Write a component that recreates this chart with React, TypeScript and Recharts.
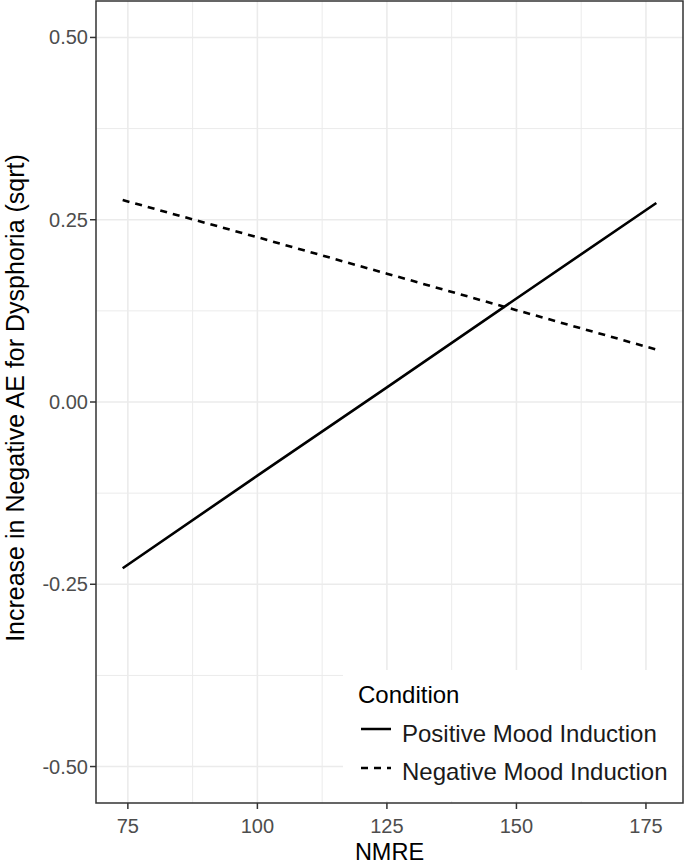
import { LineChart, Line, XAxis, YAxis, CartesianGrid, ReferenceArea, Legend } from "recharts"

const nmre = [74, 100, 125, 150, 177]
const positiveMood = [-0.228, -0.101, 0.02, 0.142, 0.273]
const negativeMood = [0.277, 0.226, 0.176, 0.126, 0.072]

const xMajor = [75, 100, 125, 150, 175]
const xMinor = [87.5, 112.5, 137.5, 162.5]
const yMajor = [-0.5, -0.25, 0, 0.25, 0.5]
const yMinor = [-0.375, -0.125, 0.125, 0.375]

const xDomain: [number, number] = [68.85, 182.15]
const yDomain: [number, number] = [-0.55, 0.55]

const series = [
  { key: "positive", name: "Positive Mood Induction", dash: undefined },
  { key: "negative", name: "Negative Mood Induction", dash: "7 6" },
]

const data = nmre.map((x, i) => ({ nmre: x, positive: positiveMood[i], negative: negativeMood[i] }))

const font = "'Liberation Sans', Arial, sans-serif"

function YTick(props: any) {
  const { x, y, payload } = props
  if (!yMajor.includes(payload.value)) return <g />
  return (
    <g>
      <line x1={x - 6} x2={x} y1={y} y2={y} stroke="#333" strokeWidth={1.5} />
      <text x={x - 8} y={y} dy={7} textAnchor="end" fill="#4d4d4d" fontSize={20} fontFamily={font}>
        {payload.value.toFixed(2)}
      </text>
    </g>
  )
}

function XTick(props: any) {
  const { x, y, payload } = props
  if (!xMajor.includes(payload.value)) return <g />
  return (
    <g>
      <line x1={x} x2={x} y1={y} y2={y + 6} stroke="#333" strokeWidth={1.5} />
      <text x={x} y={y + 30} textAnchor="middle" fill="#4d4d4d" fontSize={20} fontFamily={font}>
        {payload.value}
      </text>
    </g>
  )
}

function LegendBox() {
  return (
    <svg width={339} height={131} style={{ display: "block" }}>
      <text x={15} y={33} fontSize={24} fontFamily={font} fill="#000">Condition</text>
      {series.map((s, i) => (
        <g key={s.key}>
          <line x1={18} x2={48} y1={59 + i * 39} y2={59 + i * 39} stroke="#000" strokeWidth={2.5} strokeDasharray={s.dash} />
          <text x={59} y={72 + i * 38} fontSize={24} fontFamily={font} fill="#1a1a1a">{s.name}</text>
        </g>
      ))}
    </svg>
  )
}

export default function App() {
  return (
    <div style={{ position: "absolute", left: 0, top: 0, background: "#fff" }}>
      <LineChart width={685} height={866} data={data} margin={{ top: 1, right: 2, left: 0, bottom: 0 }}>
        <CartesianGrid stroke="#ebebeb" strokeWidth={1} horizontalValues={yMinor} verticalValues={xMinor} />
        <CartesianGrid stroke="#ebebeb" strokeWidth={1.6} horizontalValues={yMajor} verticalValues={xMajor} />
        <XAxis
          dataKey="nmre"
          type="number"
          domain={xDomain}
          ticks={[...xMajor, ...xMinor].sort((a, b) => a - b)}
          allowDataOverflow
          height={63}
          axisLine={false}
          tickLine={false}
          tickSize={0}
          tickMargin={0}
          tick={<XTick />}
          interval={0}
          label={{
            content: () => (
              <text x={389.5} y={860} textAnchor="middle" fontSize={23.5} fontFamily={font} fill="#000">NMRE</text>
            ),
          }}
        />
        <YAxis
          type="number"
          domain={yDomain}
          ticks={[...yMajor, ...yMinor].sort((a, b) => a - b)}
          allowDataOverflow
          width={96}
          axisLine={false}
          tickLine={false}
          tickSize={0}
          tickMargin={0}
          tick={<YTick />}
          interval={0}
          label={{
            content: () => (
              <text x={24} y={398} textAnchor="middle" transform="rotate(-90, 24, 398)" fontSize={25} fontFamily={font} fill="#000">
                Increase in Negative AE for Dysphoria (sqrt)
              </text>
            ),
          }}
        />
        {series.map((s) => (
          <Line
            key={s.key}
            dataKey={s.key}
            name={s.name}
            type="linear"
            stroke="#000"
            strokeWidth={2.6}
            strokeDasharray={s.dash}
            dot={false}
            activeDot={false}
            isAnimationActive={false}
          />
        ))}
        <ReferenceArea x1={xDomain[0]} x2={xDomain[1]} y1={yDomain[0]} y2={yDomain[1]} fill="none" stroke="#333" strokeWidth={1.5} fillOpacity={0} />
        <Legend
          layout="vertical"
          align="center"
          verticalAlign="middle"
          content={() => <LegendBox />}
          wrapperStyle={{ left: 343, top: 670, width: 339, height: 131, background: "#fff" }}
        />
      </LineChart>
    </div>
  )
}
